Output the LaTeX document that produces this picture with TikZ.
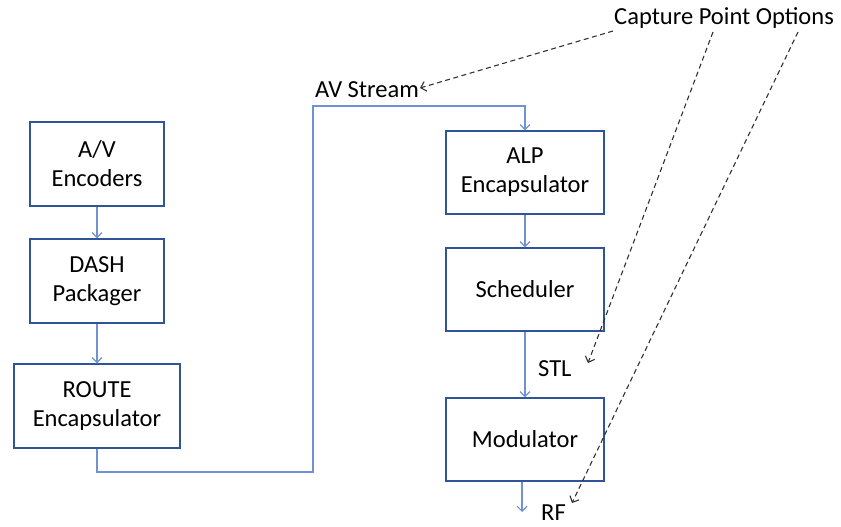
\documentclass[tikz,border=0pt]{standalone}
\usepackage{fontspec}
\setmainfont{Carlito}
\usetikzlibrary{arrows.meta}
\definecolor{boxblue}{RGB}{47,85,151}
\definecolor{lineblue}{RGB}{112,146,212}
\definecolor{dashgray}{RGB}{50,50,50}
\begin{document}
\begin{tikzpicture}[x=1pt,y=-1pt,
  font=\fontsize{24.5}{29}\selectfont,
  blk/.style={draw=boxblue, line width=1.2pt, fill=white, inner sep=0pt, align=center,
              minimum height=84pt, minimum width=134pt},
  flow/.style={draw=lineblue, line width=1.2pt, -{Straight Barb[length=5pt,width=10pt]}},
  capt/.style={draw=dashgray, line width=1.1pt, dash pattern=on 5pt off 3.5pt,
               -{Straight Barb[length=5pt,width=10pt]}},
  lbl/.style={inner sep=0pt, anchor=base west}]
\useasboundingbox (0,0) rectangle (841,527);

% boxes
\node[blk] (av) at (97,164) {A/V\\Encoders};
\node[blk] (dash) at (97,281) {DASH\\Packager};
\node[blk, minimum width=166pt] (route) at (97,406) {ROUTE\\Encapsulator};
\node[blk, minimum width=158pt, minimum height=83pt] (alp) at (525,172.5) {ALP\\Encapsulator};
\node[blk, minimum width=158pt, minimum height=83pt] (sched) at (525,289.5) {Scheduler};
\node[blk, minimum width=158pt, minimum height=83pt] (mod) at (525,439.5) {Modulator};

% labels
\node[lbl] (avs) at (315,97) {AV Stream};
\node[lbl] (stl) at (538,376) {STL};
\node[lbl] (rf) at (541,520) {RF};
\node[lbl] (cap) at (614,25) {Capture Point Options};

% flow connectors
\coordinate (k1) at (313,472);
\coordinate (k2) at (313,106);
\coordinate (rfend) at (522,512);
\draw[flow] (av) -- (dash);
\draw[flow] (dash) -- (route);
\draw[flow] (route.south) |- (k1) -- (k2) -| (alp.north);
\draw[flow] (alp) -- (sched);
\draw[flow] (sched) -- (mod);
\draw[flow] (mod.south -| rfend) -- (rfend);

% capture point dashed arrows
\coordinate (s1) at (613,31);
\coordinate (t1) at (420,88);
\coordinate (s2) at (713,32);
\coordinate (t2) at (588,363);
\coordinate (s3) at (798,32);
\coordinate (t3) at (572,503);
\draw[capt] (s1) -- (t1);
\draw[capt] (s2) -- (t2);
\draw[capt] (s3) -- (t3);
\end{tikzpicture}
\end{document}
